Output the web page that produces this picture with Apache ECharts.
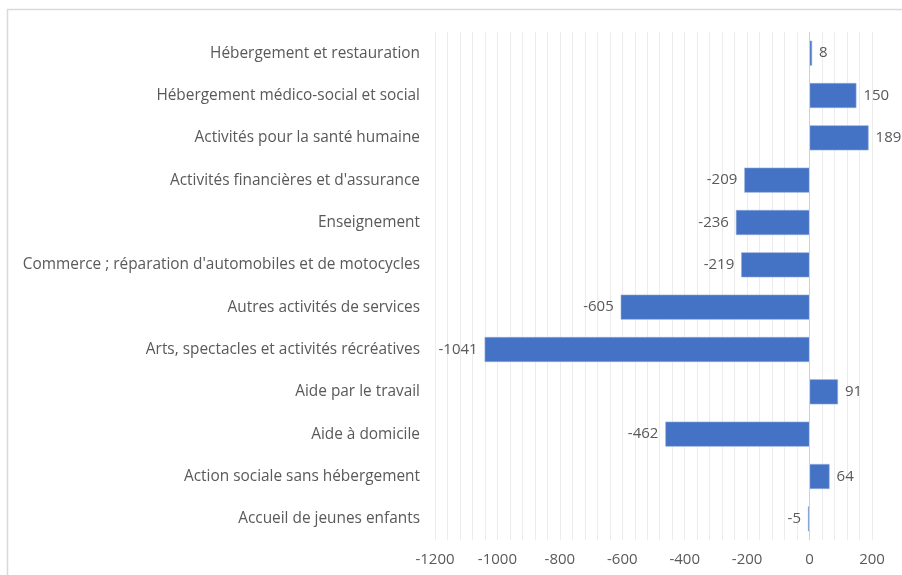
<!DOCTYPE html>
<html>
<head>
<meta charset="utf-8">
<script src="https://cdn.jsdelivr.net/npm/echarts@6/dist/echarts.min.js"></script>
<style>
  html, body { margin: 0; padding: 0; background: #fff; }
  #chart { width: 902px; height: 575px; }
</style>
</head>
<body>
<div id="chart"></div>
<script>
const categories = [
  'Hébergement et restauration',
  'Hébergement médico-social et social',
  'Activités pour la santé humaine',
  "Activités financières et d'assurance",
  'Enseignement',
  "Commerce ; réparation d'automobiles et de motocycles",
  'Autres activités de services',
  'Arts, spectacles et activités récréatives',
  'Aide par le travail',
  'Aide à domicile',
  'Action sociale sans hébergement',
  'Accueil de jeunes enfants'
]
const values = [8, 150, 189, -209, -236, -219, -605, -1041, 91, -462, 64, -5]

const textColor = '#595959'
const fontFamily = 'Open Sans, sans-serif'

const chart = echarts.init(document.getElementById('chart'))

chart.setOption({
  animation: false,
  textStyle: { fontFamily },
  graphic: [
    {
      type: 'rect',
      shape: { x: 7.5, y: 9.5, width: 1000, height: 700 },
      style: { fill: 'none', stroke: '#d9d9d9', lineWidth: 1.5 },
      silent: true
    }
  ],
  grid: { left: 435, right: 30, top: 32, bottom: 35, containLabel: false },
  xAxis: {
    type: 'value',
    min: -1200,
    max: 200,
    interval: 200,
    axisLine: { show: false },
    axisTick: { show: false },
    axisLabel: { color: textColor, fontSize: 15, margin: 12, formatter: (v) => String(v) },
    splitLine: { show: true, lineStyle: { color: '#ececec', width: 1 } },
    minorTick: { show: false, splitNumber: 5 },
    minorSplitLine: { show: true, lineStyle: { color: '#ececec', width: 1 } }
  },
  yAxis: {
    type: 'category',
    data: categories,
    inverse: true,
    axisLine: { show: false },
    axisTick: { show: false },
    axisLabel: { color: textColor, fontSize: 15.4, margin: 15 }
  },
  series: [
    {
      type: 'bar',
      barWidth: 25,
      data: values.map((v) => ({
        value: v,
        label: { position: v >= 0 ? 'right' : 'left' }
      })),
      itemStyle: { color: '#4472C4', borderColor: '#8faadc', borderWidth: 0.6 },
      label: { show: true, color: textColor, fontSize: 15, distance: 7 },
      markLine: {
        silent: true,
        symbol: 'none',
        label: { show: false },
        lineStyle: { color: '#d0d0d0', type: 'solid', width: 1 },
        data: [{ xAxis: 0 }]
      }
    }
  ]
})
</script>
</body>
</html>
